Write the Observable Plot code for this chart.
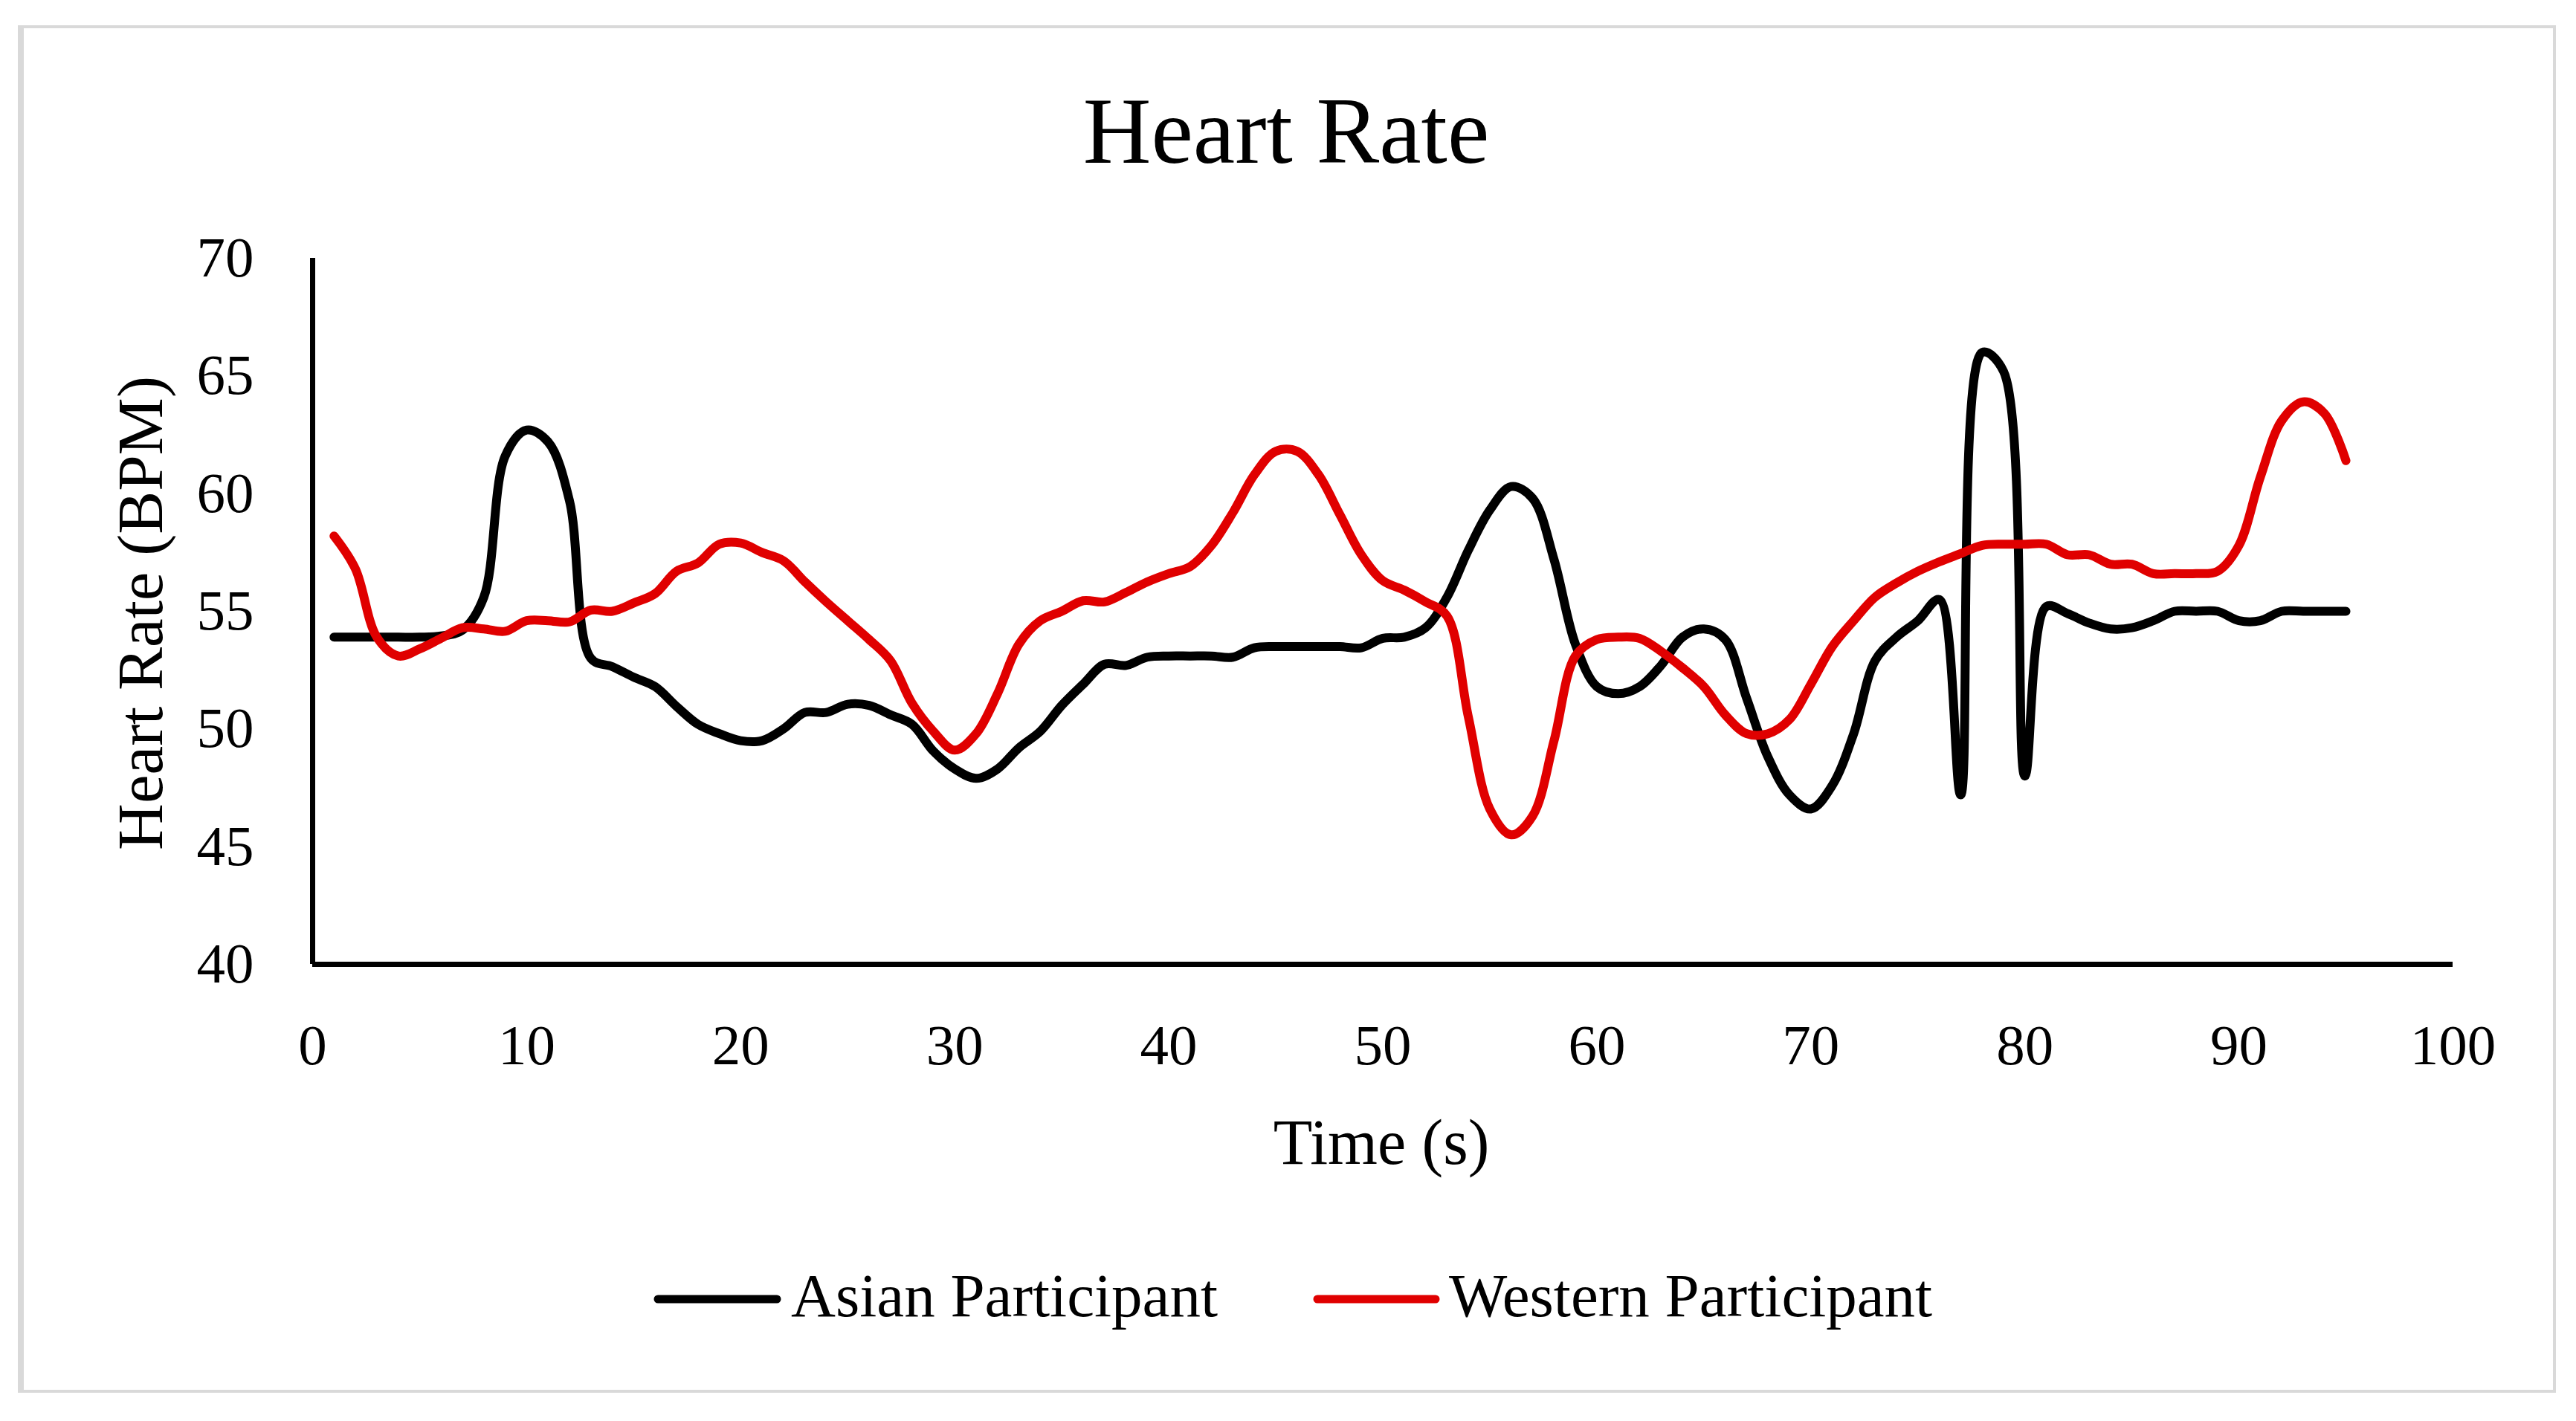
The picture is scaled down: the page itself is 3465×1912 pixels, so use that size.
<!DOCTYPE html>
<html><head><meta charset="utf-8">
<script src="https://cdn.jsdelivr.net/npm/d3@7"></script>
<script src="https://cdn.jsdelivr.net/npm/@observablehq/plot@0.6"></script>
<style>
html,body{margin:0;padding:0;background:#fff;}
#wrap{position:relative;width:3465px;height:1912px;overflow:hidden;background:#fff;}
#frame{position:absolute;left:24px;top:34px;width:3402px;height:1832px;border:4px solid #d9d9d9;border-left-width:8px;}
#chart,#overlay{position:absolute;left:0;top:0;}
</style></head>
<body><div id="wrap"><div id="frame"></div><div id="chart"></div><svg id="overlay" width="3465" height="1912"></svg></div>
<script>
const timeSec = [1,2,3,4,5,6,7,8,9,10,11,12,13,14,15,16,17,18,19,20,21,22,23,24,25,26,27,28,29,30,31,32,33,34,35,36,37,38,39,40,41,42,43,44,45,46,47,48,49,50,51,52,53,54,55,56,57,58,59,60,61,62,63,64,65,66,67,68,69,70,71,72,73,74,75,76,77,78,79,80,81,82,83,84,85,86,87,88,89,90,91,92,93,94,95];
const asianHR = [53.9,53.9,53.9,53.9,53.9,53.95,54.2,55.6,61.6,62.7,
62.2,59.7,53.0,52.65,52.2,51.8,50.96,50.2,49.8,49.5,
49.5,50.0,50.7,50.7,51.05,51.0,50.6,50.2,49.06,48.3,
47.9,48.3,49.2,49.9,51.0,51.9,52.75,52.7,53.05,53.1,
53.1,53.1,53.05,53.45,53.5,53.5,53.5,53.5,53.45,53.85,
53.9,54.3,55.6,57.6,59.3,60.3,59.8,57.2,53.6,51.8,
51.5,51.8,52.7,53.9,54.25,53.8,51.3,48.8,47.2,46.6,
47.6,49.8,52.9,53.9,54.6,55.5,47.2,66.0,65.2,48.0,
55.2,54.9,54.5,54.25,54.3,54.6,55.0,55.0,55.0,54.6,
54.6,55.0,55.0,55.0,55.0];
const westernHR = [58.2,56.8,53.9,53.1,53.4,53.85,54.3,54.25,54.15,54.6,
54.6,54.55,55.05,55.0,55.35,55.75,56.7,57.05,57.85,57.9,
57.5,57.15,56.25,55.4,54.6,53.8,52.9,51.1,49.9,49.1,
49.8,51.5,53.6,54.6,55.0,55.45,55.4,55.8,56.25,56.6,
56.9,57.8,59.2,60.8,61.8,61.8,60.8,59.1,57.4,56.3,
55.9,55.4,54.8,50.5,46.6,45.5,46.3,49.5,53.1,53.8,
53.9,53.85,53.3,52.6,51.8,50.6,49.8,49.8,50.4,51.9,
53.5,54.6,55.6,56.2,56.7,57.1,57.45,57.8,57.85,57.85,
57.85,57.4,57.4,57.0,57.0,56.6,56.6,56.6,56.7,57.8,
60.7,63.1,63.9,63.4,61.4];
const xTicks = [0,10,20,30,40,50,60,70,80,90,100];
const yTicks = [40,45,50,55,60,65,70];
const seriesNames = ["Asian Participant","Western Participant"];
const seriesColors = ["#000000","#e00000"];

const asianData = timeSec.map((t,i)=>({t, v: asianHR[i]}));
const westernData = timeSec.map((t,i)=>({t, v: westernHR[i]}));

const plot = Plot.plot({
  width: 3465, height: 1912,
  marginLeft: 420, marginRight: 166, marginTop: 347, marginBottom: 615,
  x: {domain: [0,100]},
  y: {domain: [40,70]},
  style: {fontFamily: "Liberation Serif", fontSize: "77px", background: "transparent", color: "#000", overflow: "visible"},
  marks: [
    Plot.axisX({ticks: xTicks, tickSize: 0, tickPadding: 80, label: null, fontSize: 77}),
    Plot.axisY({ticks: yTicks, tickSize: 0, tickPadding: 79, label: null, fontSize: 77}),
    Plot.ruleX([0], {y1: 40, y2: 70, stroke: "#000", strokeWidth: 7}),
    Plot.ruleY([40], {x1: 0, x2: 100, stroke: "#000", strokeWidth: 7}),
    Plot.line(asianData, {x: "t", y: "v", stroke: seriesColors[0], strokeWidth: 12, curve: "catmull-rom", strokeLinecap: "round", strokeLinejoin: "round"}),
    Plot.line(westernData, {x: "t", y: "v", stroke: seriesColors[1], strokeWidth: 12, curve: "catmull-rom", strokeLinecap: "round", strokeLinejoin: "round"})
  ]
});
document.getElementById("chart").appendChild(plot);

const ov = d3.select("#overlay").style("font-family", "Liberation Serif").attr("fill", "#000");
ov.append("text").attr("x", 1730).attr("y", 219).attr("text-anchor", "middle").attr("font-size", 127).text("Heart Rate");
ov.append("text").attr("transform", "translate(218,825) rotate(-90)").attr("text-anchor", "middle").attr("font-size", 87).text("Heart Rate (BPM)");
ov.append("text").attr("x", 1858).attr("y", 1566).attr("text-anchor", "middle").attr("font-size", 86).text("Time (s)");
const legendItems = [{x1: 885, x2: 1045, tx: 1064}, {x1: 1772, x2: 1931, tx: 1949}];
legendItems.forEach((d, i) => {
  ov.append("line").attr("x1", d.x1).attr("x2", d.x2).attr("y1", 1748).attr("y2", 1748)
    .attr("stroke", seriesColors[i]).attr("stroke-width", 11).attr("stroke-linecap", "round");
  ov.append("text").attr("x", d.tx).attr("y", 1771).attr("font-size", 83).text(seriesNames[i]);
});
</script></body></html>
